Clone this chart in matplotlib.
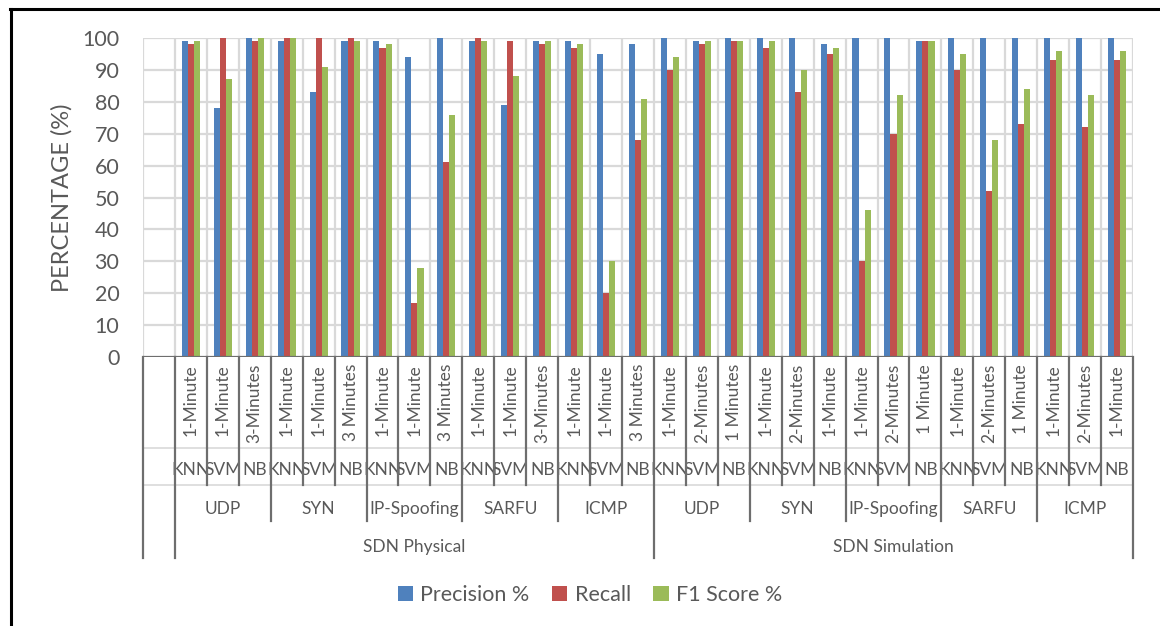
import matplotlib
matplotlib.use("Agg")
import matplotlib.pyplot as plt
from matplotlib.lines import Line2D
from matplotlib.patches import Patch
import numpy as np

plt.rcParams['font.family'] = ['Lato', 'DejaVu Sans']

# ---- data -------------------------------------------------------------
environments = ["SDN Physical", "SDN Simulation"]
attacks = ["UDP", "SYN", "IP-Spoofing", "SARFU", "ICMP"]
algorithms = ["KNN", "SVM", "NB"]

durations_physical = ["1-Minute", "1-Minute", "3-Minutes",
                      "1-Minute", "1-Minute", "3 Minutes",
                      "1-Minute", "1-Minute", "3 Minutes",
                      "1-Minute", "1-Minute", "3-Minutes",
                      "1-Minute", "1-Minute", "3 Minutes"]
durations_simulation = ["1-Minute", "2-Minutes", "1 Minutes",
                        "1-Minute", "2-Minutes", "1-Minute",
                        "1-Minute", "2-Minutes", "1 Minute",
                        "1-Minute", "2-Minutes", "1 Minute",
                        "1-Minute", "2-Minutes", "1-Minute"]

precision_physical = [99, 78, 100, 99, 83, 99, 99, 94, 100, 99, 79, 99, 99, 95, 98]
recall_physical = [98, 100, 99, 100, 100, 100, 97, 17, 61, 100, 99, 98, 97, 20, 68]
f1_physical = [99, 87, 100, 100, 91, 99, 98, 28, 76, 99, 88, 99, 98, 30, 81]

precision_simulation = [100, 99, 100, 100, 100, 98, 100, 100, 99, 100, 100, 100, 100, 100, 100]
recall_simulation = [90, 98, 99, 97, 83, 95, 30, 70, 99, 90, 52, 73, 93, 72, 93]
f1_simulation = [94, 99, 99, 99, 90, 97, 46, 82, 99, 95, 68, 84, 96, 82, 96]

series_names = ["Precision %", "Recall", "F1 Score %"]
series_colors = ["#4F81BD", "#C0504D", "#9BBB59"]

# ---- layout -----------------------------------------------------------
W, H, DPI = 1160, 626, 100
fig = plt.figure(figsize=(W / DPI, H / DPI), dpi=DPI)
fig.patch.set_facecolor("white")

ax_left, ax_right, ax_top, ax_bottom = 143, 1133, 38, 357
ax = fig.add_axes([ax_left / W, 1 - ax_bottom / H,
                   (ax_right - ax_left) / W, (ax_bottom - ax_top) / H])
ax_h_px = ax_bottom - ax_top
ax_w_px = ax_right - ax_left

text_color = "#595959"
grid_color = "#D9D9D9"
tick_color = "#6E6E6E"

precision = [None] + precision_physical + precision_simulation
recall = [None] + recall_physical + recall_simulation
f1 = [None] + f1_physical + f1_simulation
n_cat = len(precision)  # first category is an empty slot

centers = np.arange(n_cat) + 0.5
bw = 0.19
for k, (vals, color, name) in enumerate(zip([precision, recall, f1], series_colors, series_names)):
    xs = [c + (k - 1) * bw for c, v in zip(centers, vals) if v is not None]
    ys = [v for v in vals if v is not None]
    ax.bar(xs, ys, width=bw, color=color, label=name, zorder=3, linewidth=0)

ax.set_xlim(0, n_cat)
ax.set_ylim(0, 100)
ax.set_yticks(np.arange(0, 101, 10))
ax.tick_params(axis="y", length=0, pad=17, labelsize=15.5, labelcolor=text_color)
ax.set_xticks([])

# gridlines: horizontal every 10, vertical at each category boundary
for yv in np.arange(10, 101, 10):
    ax.axhline(yv, color=grid_color, lw=1.6, zorder=1)
for xv in range(0, n_cat + 1):
    ax.axvline(xv, color=grid_color, lw=1.6, zorder=1)
for s in ax.spines.values():
    s.set_visible(False)
ax.axhline(0, color=tick_color, lw=1.6, zorder=4)

ax.set_ylabel("PERCENTAGE (%)", fontsize=17, color=text_color)
ax.yaxis.set_label_coords((73 - ax_left) / ax_w_px, 0.5)

# ---- multi-level category axis ---------------------------------------
xt = ax.get_xaxis_transform()


def yoff(px):
    return -px / ax_h_px


lvl1, lvl2, lvl3, lvl4 = 91, 128, 164, 201

# faint separators between label rows
for p in (lvl1, lvl2):
    ax.plot([0, n_cat], [yoff(p)] * 2, transform=xt, color=grid_color,
            lw=1.2, clip_on=False, zorder=2)

n_env = len(environments)
n_att = len(attacks)
n_alg = len(algorithms)
per_env = n_att * n_alg

# boundary lines, depth depends on hierarchy level
for b in range(0, n_cat + 1):
    if b in (0, 1) or (b - 1) % per_env == 0:
        depth = lvl4
    elif (b - 1) % n_alg == 0:
        depth = lvl3
    else:
        depth = lvl2
    ax.plot([b, b], [0, yoff(depth)], transform=xt, color=tick_color,
            lw=1.6, clip_on=False, zorder=4)

label_fs = 12.5
all_durations = durations_physical + durations_simulation
for i, lab in enumerate(all_durations):
    c = i + 1.5
    ax.text(c, yoff(7), lab, transform=xt, rotation=90, ha="center", va="top",
            fontsize=label_fs, color=text_color)
    ax.text(c, yoff(113), algorithms[i % n_alg], transform=xt, ha="center",
            va="center", fontsize=label_fs, color=text_color)

for e in range(n_env):
    for a in range(n_att):
        c = 1 + e * per_env + a * n_alg + n_alg / 2
        ax.text(c, yoff(152), attacks[a], transform=xt, ha="center",
                va="center", fontsize=label_fs, color=text_color)
    c = 1 + e * per_env + per_env / 2
    ax.text(c, yoff(190), environments[e], transform=xt, ha="center",
            va="center", fontsize=label_fs, color=text_color)

# ---- legend -----------------------------------------------------------
handles = [Patch(facecolor=c, edgecolor="none") for c in series_colors]
leg = fig.legend(handles, series_names, loc="center",
                 bbox_to_anchor=(590 / W, 1 - 595 / H), ncol=3, frameon=False,
                 handlelength=0.7, handleheight=0.7, handletextpad=0.35,
                 columnspacing=1.05, fontsize=15.5)
for t in leg.get_texts():
    t.set_color(text_color)

# ---- frame around the figure (left and top edges) ---------------------
fig.add_artist(Line2D([10.5 / W, 10.5 / W], [0, 1 - 9 / H],
                      transform=fig.transFigure, color="black", lw=2.2))
fig.add_artist(Line2D([10 / W, 1], [1 - 9 / H, 1 - 9 / H],
                      transform=fig.transFigure, color="black", lw=2.2))

fig.savefig("out.png", dpi=DPI, facecolor="white")
